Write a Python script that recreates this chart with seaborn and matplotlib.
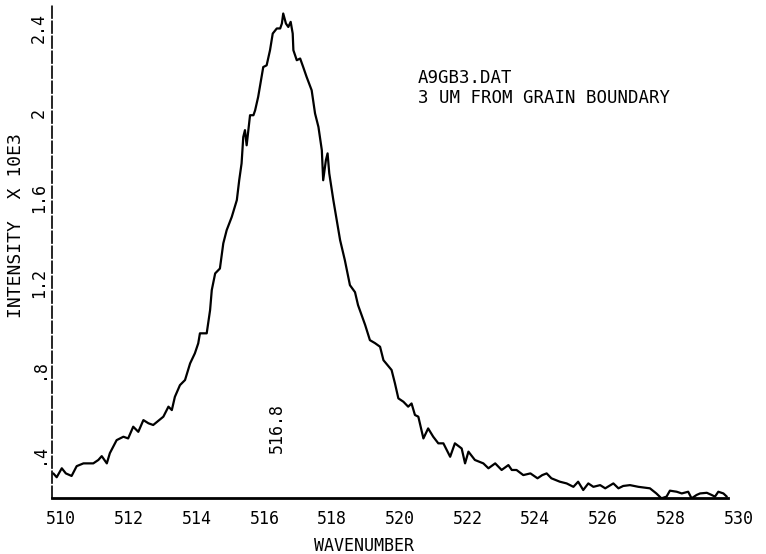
import matplotlib
matplotlib.use("Agg")
import matplotlib.pyplot as plt
from matplotlib.transforms import ScaledTranslation
import seaborn as sns
import pandas as pd

# ---- data ----
wavenumber = [
    510.03, 510.13, 510.28, 510.40, 510.57, 510.72, 510.92, 511.21, 511.36, 511.46,
    511.61, 511.70, 511.90, 512.10, 512.24, 512.39, 512.54, 512.69, 512.84, 512.98,
    513.28, 513.43, 513.53, 513.62, 513.77, 513.92, 514.07, 514.21, 514.31, 514.36,
    514.56, 514.66, 514.71, 514.81, 514.95, 515.05, 515.15, 515.30, 515.45, 515.52,
    515.59, 515.64, 515.69, 515.74, 515.84, 515.94, 515.99, 516.08, 516.23, 516.33,
    516.43, 516.51, 516.63, 516.73, 516.78, 516.82, 516.90, 516.97, 517.04, 517.10,
    517.12, 517.22, 517.32, 517.41, 517.51, 517.66, 517.76, 517.86, 517.96, 518.00,
    518.08, 518.13, 518.18, 518.30, 518.50, 518.64, 518.79, 518.94, 519.03, 519.24,
    519.38, 519.53, 519.68, 519.78, 520.02, 520.12, 520.22, 520.37, 520.51, 520.61,
    520.71, 520.81, 520.96, 521.10, 521.25, 521.40, 521.55, 521.75, 521.89, 522.09,
    522.19, 522.29, 522.48, 522.73, 522.88, 523.08, 523.27, 523.47, 523.57, 523.71,
    523.91, 524.12, 524.33, 524.47, 524.60, 524.74, 524.99, 525.19, 525.39, 525.53,
    525.68, 525.83, 525.98, 526.18, 526.33, 526.57, 526.72, 526.86, 527.06, 527.31,
    527.65, 527.84, 527.99, 528.14, 528.24, 528.44, 528.59, 528.78, 528.88, 529.03,
    529.13, 529.33, 529.47, 529.57, 529.67, 529.82, 529.92,
]
intensity = [
    0.328, 0.310, 0.352, 0.328, 0.316, 0.362, 0.375, 0.375, 0.391, 0.409,
    0.375, 0.423, 0.484, 0.500, 0.492, 0.547, 0.523, 0.578, 0.563, 0.555,
    0.594, 0.641, 0.625, 0.687, 0.742, 0.766, 0.844, 0.891, 0.938, 0.985,
    0.985, 1.094, 1.188, 1.266, 1.289, 1.407, 1.469, 1.531, 1.610, 1.703,
    1.782, 1.906, 1.938, 1.867, 2.008, 2.008, 2.031, 2.094, 2.234, 2.242,
    2.313, 2.391, 2.415, 2.415, 2.438, 2.485, 2.438, 2.422, 2.446, 2.391,
    2.313, 2.266, 2.274, 2.234, 2.188, 2.125, 2.016, 1.953, 1.844, 1.703,
    1.797, 1.829, 1.735, 1.610, 1.422, 1.328, 1.211, 1.178, 1.117, 1.024,
    0.953, 0.939, 0.922, 0.859, 0.813, 0.750, 0.680, 0.664, 0.641, 0.656,
    0.602, 0.594, 0.492, 0.539, 0.500, 0.469, 0.469, 0.406, 0.469, 0.445,
    0.375, 0.430, 0.391, 0.375, 0.352, 0.375, 0.344, 0.367, 0.344, 0.344,
    0.320, 0.328, 0.305, 0.320, 0.328, 0.305, 0.289, 0.281, 0.265, 0.289,
    0.250, 0.281, 0.265, 0.273, 0.258, 0.281, 0.258, 0.269, 0.273, 0.265,
    0.258, 0.234, 0.211, 0.219, 0.247, 0.242, 0.234, 0.242, 0.211, 0.227,
    0.234, 0.237, 0.227, 0.219, 0.242, 0.234, 0.219,
]
x_ticks = [510, 512, 514, 516, 518, 520, 522, 524, 526, 528, 530]
y_ticks = [0.4, 0.8, 1.2, 1.6, 2.0, 2.4]
y_tick_labels = [".4", ".8", "1.2", "1.6", "2", "2.4"]
peak_label = "516.8"
title_lines = ["A9GB3.DAT", "3 UM FROM GRAIN BOUNDARY"]

df = pd.DataFrame({"WAVENUMBER": wavenumber, "INTENSITY": intensity})

sns.set_style("white")
plt.rcParams["font.family"] = ["DejaVu Sans Mono"]
plt.rcParams.update({
    "text.color": "black", "axes.labelcolor": "black",
    "xtick.color": "black", "ytick.color": "black",
    "axes.edgecolor": "black",
})
FS = 12

fig = plt.figure(figsize=(7.66, 5.54), dpi=100)
ax = fig.add_axes([52.3 / 766, 1 - 497.7 / 554, 677.2 / 766, 492.7 / 554])

sns.lineplot(data=df, x="WAVENUMBER", y="INTENSITY", color="black",
             linewidth=1.6, estimator=None, sort=False, ax=ax)

ax.set_xlim(510, 530)
ax.set_ylim(0.214, 2.525)

for s in ["top", "right"]:
    ax.spines[s].set_visible(False)
ax.spines["bottom"].set_linewidth(2.0)
ax.spines["left"].set_linewidth(1.2)
ax.spines["left"].set_linestyle((0, (7, 2)))
ax.spines["bottom"].set_bounds(510, 529.95)

ax.set_xticks(x_ticks)
ax.set_xticklabels([str(t) for t in x_ticks], fontsize=FS)
ax.set_yticks(y_ticks)
ax.set_yticklabels(y_tick_labels, fontsize=FS, rotation=90, va="center")
ax.tick_params(axis="both", direction="inout", length=5, width=1.2, color="black",
               labelcolor="black")
ax.tick_params(axis="x", pad=6)
ax.tick_params(axis="y", pad=0.5)

for lab in ax.get_xticklabels():
    lab.set_transform(lab.get_transform() + ScaledTranslation(9 / 100, 0, fig.dpi_scale_trans))
for lab in ax.get_yticklabels():
    lab.set_transform(lab.get_transform() + ScaledTranslation(0, 4 / 100, fig.dpi_scale_trans))

ax.set_xlabel("WAVENUMBER", fontsize=FS, va="center", ha="center", color="black")
ax.xaxis.set_label_coords(0.46, -0.098)
ax.set_ylabel("INTENSITY  X 10E3", fontsize=13, va="center", ha="center", color="black")
ax.yaxis.set_label_coords(-0.053, 0.553)

ax.text(516.62, 0.54, peak_label, rotation=90, ha="center", va="center",
        fontsize=FS, color="black")

fig.text(418 / 766, 1 - 83 / 554, title_lines[0], fontsize=12.5, va="baseline",
         ha="left", color="black")
fig.text(418 / 766, 1 - 103 / 554, title_lines[1], fontsize=12.5, va="baseline",
         ha="left", color="black")

fig.savefig("out.png", dpi=100)
